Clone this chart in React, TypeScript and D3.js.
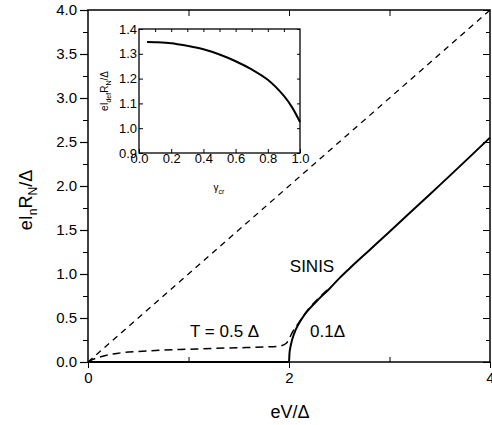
import React, { useRef, useEffect } from "react";
import * as d3 from "d3";

// main panel
const linearV = [0, 4];
const linearI = [0, 4];
const warmV = [0, 0.05, 0.1, 0.2, 0.3, 0.5, 0.75, 1.0, 1.25, 1.5, 1.75, 1.9, 1.97, 2.0, 2.03, 2.1, 2.2, 2.3, 2.4];
const warmI = [0, 0.03, 0.05, 0.08, 0.1, 0.12, 0.135, 0.145, 0.155, 0.162, 0.17, 0.18, 0.21, 0.26, 0.33, 0.45, 0.61, 0.73, 0.84];
const sinisV = [0, 2.0, 2.005, 2.02, 2.05, 2.1, 2.15, 2.2, 2.3, 2.4, 2.5, 2.6, 2.8, 3.0, 3.33, 3.5, 4.0];
const sinisI = [0, 0, 0.1, 0.2, 0.32, 0.44, 0.53, 0.6, 0.72, 0.83, 0.95, 1.06, 1.27, 1.48, 1.83, 2.01, 2.55];
const yTicks = [0, 0.5, 1.0, 1.5, 2.0, 2.5, 3.0, 3.5, 4.0];
const xTicks = [0, 2, 4];

// inset
const gamma = [0.05, 0.1, 0.2, 0.3, 0.4, 0.5, 0.6, 0.7, 0.8, 0.9, 0.95, 1.0];
const idc = [1.348, 1.347, 1.343, 1.332, 1.318, 1.297, 1.27, 1.237, 1.195, 1.13, 1.085, 1.025];
const insetXTicks = [0, 0.2, 0.4, 0.6, 0.8, 1.0];
const insetYTicks = [0.9, 1.0, 1.1, 1.2, 1.3, 1.4];

const font = "Liberation Sans, Arial, sans-serif";

const App = () => {
  const ref = useRef<SVGSVGElement>(null);

  useEffect(() => {
    const svg = d3.select(ref.current);
    svg.selectAll("*").remove();

    const x = d3.scaleLinear().domain([0, 4]).range([88, 490]);
    const y = d3.scaleLinear().domain([0, 4]).range([362, 10]);

    const g = svg.append("g");

    // frame
    g.append("rect")
      .attr("x", x(0)).attr("y", y(4))
      .attr("width", x(4) - x(0)).attr("height", y(0) - y(4))
      .attr("fill", "none").attr("stroke", "#000").attr("stroke-width", 1.5);

    // left axis
    const left = d3.axisLeft(y).tickValues(yTicks).tickFormat(d3.format(".1f")).tickSize(8).tickPadding(3);
    const ga = g.append("g").attr("transform", `translate(${x(0)},0)`).call(left);
    ga.select(".domain").remove();
    ga.selectAll("text").attr("font-size", 15).attr("font-family", font).attr("fill", "#000");
    ga.selectAll("line").attr("stroke-width", 1.2);
    const minorY = d3.range(0.25, 4, 0.5);
    g.append("g").attr("transform", `translate(${x(0)},0)`)
      .call(d3.axisLeft(y).tickValues(minorY).tickSize(5).tickFormat(() => ""))
      .call(s => s.select(".domain").remove());

    // right axis, ticks inward
    g.append("g").attr("transform", `translate(${x(4)},0)`)
      .call(d3.axisRight(y).tickValues(yTicks).tickSize(-7).tickFormat(() => ""))
      .call(s => s.select(".domain").remove());
    g.append("g").attr("transform", `translate(${x(4)},0)`)
      .call(d3.axisRight(y).tickValues(minorY).tickSize(-4).tickFormat(() => ""))
      .call(s => s.select(".domain").remove());

    // bottom axis
    const bottom = d3.axisBottom(x).tickValues(xTicks).tickFormat(d3.format("d")).tickSize(6).tickPadding(4);
    const gb = g.append("g").attr("transform", `translate(0,${y(0)})`).call(bottom);
    gb.select(".domain").remove();
    gb.selectAll("text").attr("font-size", 15).attr("font-family", font).attr("fill", "#000");
    g.append("g").attr("transform", `translate(0,${y(0)})`)
      .call(d3.axisBottom(x).tickValues([1, 3]).tickSize(-5).tickFormat(() => ""))
      .call(s => s.select(".domain").remove());

    // top axis ticks inward
    g.append("g").attr("transform", `translate(0,${y(4)})`)
      .call(d3.axisTop(x).tickValues([1, 2, 3]).tickSize(-6).tickFormat(() => ""))
      .call(s => s.select(".domain").remove());

    // curves
    const line = (vs: number[], is: number[]) =>
      d3.line<number>().x((_, k) => x(vs[k])).y((_, k) => y(is[k])).curve(d3.curveMonotoneX)(vs);

    g.append("path").attr("d", line(linearV, linearI)!)
      .attr("fill", "none").attr("stroke", "#000").attr("stroke-width", 1.3).attr("stroke-dasharray", "6,5");
    g.append("path").attr("d", line(warmV, warmI)!)
      .attr("fill", "none").attr("stroke", "#000").attr("stroke-width", 1.5).attr("stroke-dasharray", "8,5");
    g.append("path").attr("d", line(sinisV, sinisI)!)
      .attr("fill", "none").attr("stroke", "#000").attr("stroke-width", 2);

    // labels
    const txt = (tx: number, ty: number, s: string, size: number, anchor = "start") =>
      g.append("text").attr("x", tx).attr("y", ty).attr("font-size", size)
        .attr("font-family", font).attr("text-anchor", anchor).text(s);
    txt(312, 272, "SINIS", 17, "middle");
    txt(190, 337, "T = 0.5 Δ", 17);
    txt(310, 337, "0.1Δ", 17);

    // axis titles
    const xt = g.append("text").attr("x", 290).attr("y", 418).attr("font-size", 18)
      .attr("font-family", font).attr("text-anchor", "middle");
    xt.text("eV/Δ");

    const yt = g.append("text").attr("transform", "translate(32,200) rotate(-90)")
      .attr("font-size", 18).attr("font-family", font).attr("text-anchor", "middle");
    yt.append("tspan").text("eI");
    yt.append("tspan").attr("font-size", 12).attr("dy", 5).text("n");
    yt.append("tspan").attr("dy", -5).text("R");
    yt.append("tspan").attr("font-size", 12).attr("dy", 5).text("N");
    yt.append("tspan").attr("dy", -5).text("/Δ");

    // inset
    const ix = d3.scaleLinear().domain([0, 1]).range([139, 300]);
    const iy = d3.scaleLinear().domain([0.9, 1.4]).range([153, 29]);
    const ig = svg.append("g");
    ig.append("rect").attr("x", ix(0)).attr("y", iy(1.4))
      .attr("width", ix(1) - ix(0)).attr("height", iy(0.9) - iy(1.4))
      .attr("fill", "#fff").attr("stroke", "#000").attr("stroke-width", 1.3);

    const il = ig.append("g").attr("transform", `translate(${ix(0)},0)`)
      .call(d3.axisLeft(iy).tickValues(insetYTicks).tickFormat(d3.format(".1f")).tickSize(-4).tickPadding(2));
    il.select(".domain").remove();
    il.selectAll("text").attr("font-size", 13).attr("font-family", font).attr("fill", "#000");
    const ib = ig.append("g").attr("transform", `translate(0,${iy(0.9)})`)
      .call(d3.axisBottom(ix).tickValues(insetXTicks).tickFormat(d3.format(".1f")).tickSize(-4).tickPadding(1));
    ib.select(".domain").remove();
    ib.selectAll("text").attr("font-size", 13).attr("font-family", font).attr("fill", "#000");
    ig.append("g").attr("transform", `translate(0,${iy(1.4)})`)
      .call(d3.axisTop(ix).tickValues(d3.range(0.1, 1, 0.1)).tickSize(-3).tickFormat(() => ""))
      .call(s => s.select(".domain").remove());
    ig.append("g").attr("transform", `translate(${ix(1)},0)`)
      .call(d3.axisRight(iy).tickValues(insetYTicks).tickSize(-3).tickFormat(() => ""))
      .call(s => s.select(".domain").remove());

    ig.append("path")
      .attr("d", d3.line<number>().x((_, k) => ix(gamma[k])).y((_, k) => iy(idc[k])).curve(d3.curveCatmullRom)(gamma)!)
      .attr("fill", "none").attr("stroke", "#000").attr("stroke-width", 2);

    const ixt = ig.append("text").attr("x", 219).attr("y", 191).attr("font-size", 10)
      .attr("font-family", font).attr("text-anchor", "middle");
    ixt.append("tspan").text("γ");
    ixt.append("tspan").attr("font-size", 7).attr("dy", 3).text("cr");

    const iyt = ig.append("text").attr("transform", "translate(108,91) rotate(-90)")
      .attr("font-size", 10).attr("font-family", font).attr("text-anchor", "middle");
    iyt.append("tspan").text("eI");
    iyt.append("tspan").attr("font-size", 7).attr("dy", 3).text("def");
    iyt.append("tspan").attr("dy", -3).text("R");
    iyt.append("tspan").attr("font-size", 7).attr("dy", 3).text("N");
    iyt.append("tspan").attr("dy", -3).text("/Δ");
  }, []);

  return (
    <svg ref={ref} width={492} height={425}
      style={{ position: "absolute", left: 0, top: 0, background: "#fff" }} />
  );
};

export default App;
